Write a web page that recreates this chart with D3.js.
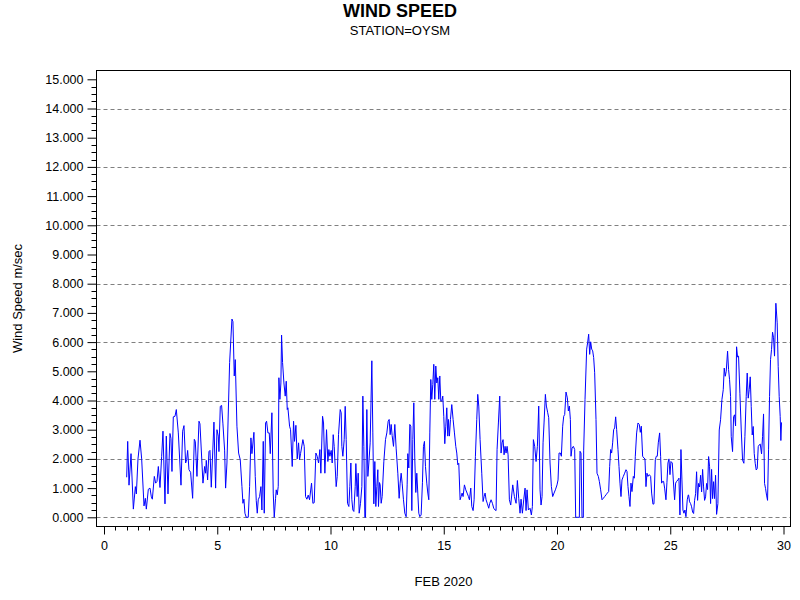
<!DOCTYPE html>
<html><head><meta charset="utf-8">
<script src="https://cdn.jsdelivr.net/npm/d3@7"></script>
<style>body{margin:0;background:#fff}svg{display:block}text{font-family:"Liberation Sans",Arial,sans-serif;fill:#000}</style>
</head><body><svg id="c" width="800" height="600"></svg>
<script>
const title = "WIND SPEED";
const subtitle = "STATION=OYSM";
const xLabel = "FEB 2020";
const yLabel = "Wind Speed m/sec";
const xTicks = [0, 5, 10, 15, 20, 25, 30];
const yTicks = d3.range(0, 16, 1);
const gridValues = [0, 2, 4, 6, 8, 10, 12, 14];

const day = [
1.001,1.046,1.104,1.193,1.296,1.384,1.428,1.501,1.590,1.663,1.766,1.825,1.869,1.957,2.031,2.090,2.134,2.222,2.281,2.340,
2.399,2.472,2.546,2.604,2.693,2.751,2.825,2.913,2.957,3.001,3.060,3.134,3.193,3.281,3.399,3.472,3.531,3.604,3.649,3.693,
3.751,3.825,3.913,3.987,4.031,4.104,4.193,4.237,4.369,4.443,4.487,4.516,4.575,4.634,4.678,4.737,4.854,4.928,4.987,5.046,
5.075,5.134,5.193,5.251,5.325,5.369,5.428,5.546,5.649,5.693,5.751,5.796,5.869,5.943,6.016,6.090,6.134,6.178,6.222,6.281,
6.369,6.428,6.487,6.531,6.619,6.678,6.722,6.766,6.810,6.869,6.928,6.972,7.031,7.075,7.134,7.178,7.237,7.296,7.340,7.413,
7.472,7.516,7.575,7.604,7.649,7.693,7.722,7.766,7.810,7.840,7.884,7.943,8.001,8.046,8.090,8.119,8.193,8.237,8.310,8.369,
8.413,8.472,8.531,8.590,8.634,8.678,8.781,8.840,8.899,8.957,9.016,9.075,9.163,9.222,9.281,9.354,9.413,9.472,9.531,9.575,
9.649,9.693,9.751,9.825,9.884,9.928,9.972,10.031,10.075,10.119,10.163,10.251,10.296,10.354,10.428,10.472,10.501,10.546,10.604,10.649,
10.693,10.751,10.810,10.854,10.899,10.943,10.987,11.031,11.090,11.119,11.178,11.222,11.266,11.325,11.384,11.428,11.472,11.516,11.546,11.604,
11.649,11.693,11.751,11.825,11.869,11.913,11.957,12.001,12.046,12.090,12.119,12.163,12.193,12.237,12.281,12.354,12.428,12.487,12.546,12.590,
12.634,12.678,12.722,12.781,12.840,12.898,12.972,13.031,13.075,13.119,13.163,13.222,13.281,13.340,13.384,13.413,13.457,13.501,13.546,13.590,
13.634,13.678,13.722,13.766,13.810,13.854,13.898,13.943,14.001,14.060,14.104,14.148,14.193,14.251,14.296,14.340,14.384,14.428,14.472,14.516,
14.560,14.604,14.649,14.693,14.737,14.781,14.825,14.869,14.913,14.957,15.001,15.046,15.090,15.134,15.178,15.207,15.251,15.296,15.354,15.413,
15.472,15.531,15.575,15.619,15.663,15.722,15.766,15.810,15.854,15.913,15.972,16.031,16.090,16.134,16.193,16.237,16.296,16.340,16.398,16.457,
16.501,16.546,16.604,16.678,16.737,16.781,16.825,16.869,16.928,16.987,17.031,17.090,17.148,17.207,17.266,17.310,17.354,17.413,17.472,17.531,
17.575,17.619,17.663,17.707,17.751,17.796,17.840,17.898,17.957,18.046,18.119,18.193,18.251,18.310,18.369,18.413,18.472,18.531,18.590,18.634,
18.678,18.737,18.810,18.869,18.913,18.957,19.016,19.075,19.134,19.193,19.251,19.296,19.340,19.384,19.428,19.487,19.531,19.590,19.634,19.693,
19.751,19.810,19.869,19.928,20.001,20.046,20.090,20.148,20.193,20.251,20.296,20.340,20.398,20.457,20.501,20.546,20.590,20.619,20.663,20.722,
20.781,20.825,20.987,21.016,21.060,21.104,21.163,21.178,21.237,21.310,21.354,21.398,21.443,21.487,21.531,21.575,21.619,21.663,21.722,21.766,
21.825,21.869,21.928,21.987,22.046,22.104,22.163,22.222,22.281,22.325,22.369,22.413,22.457,22.501,22.546,22.590,22.634,22.693,22.737,22.781,
22.825,22.869,22.928,22.987,23.046,23.090,23.134,23.178,23.222,23.266,23.310,23.369,23.413,23.457,23.516,23.575,23.634,23.678,23.722,23.781,
23.840,23.884,23.928,23.972,24.016,24.075,24.134,24.178,24.237,24.281,24.340,24.384,24.428,24.472,24.531,24.575,24.619,24.663,24.707,24.751,
24.810,24.854,24.898,24.943,24.987,25.031,25.090,25.134,25.193,25.237,25.281,25.340,25.384,25.428,25.472,25.516,25.560,25.604,25.648,25.693,
25.751,25.796,25.810,25.854,25.898,25.943,25.987,26.031,26.075,26.119,26.163,26.207,26.251,26.296,26.340,26.384,26.428,26.472,26.516,26.560,
26.604,26.648,26.693,26.737,26.781,26.825,26.869,26.913,26.957,27.001,27.046,27.104,27.163,27.222,27.281,27.340,27.384,27.428,27.472,27.531,
27.575,27.619,27.663,27.693,27.751,27.796,27.840,27.884,27.928,27.972,28.016,28.075,28.134,28.193,28.251,28.296,28.354,28.398,28.443,28.487,
28.531,28.575,28.619,28.663,28.707,28.751,28.796,28.840,28.884,28.928,28.972,29.031,29.075,29.119,29.163,29.207,29.251,29.296,29.340,29.384,
29.428,29.472,29.516,29.560,29.604,29.663,29.722,29.766,29.810,29.854,29.884,29.913
];

const speed = [
1.37,2.60,1.10,2.18,0.28,1.05,0.80,2.00,2.64,2.00,0.39,0.65,0.28,0.96,1.00,0.70,0.62,1.40,1.17,1.23,
1.74,1.02,2.09,2.95,0.46,2.78,0.80,2.87,2.70,1.57,3.44,3.46,3.69,2.89,1.10,2.95,3.14,1.86,1.97,2.29,
1.63,1.54,0.65,2.67,2.60,1.40,3.29,3.20,1.17,1.74,1.51,1.95,1.28,2.25,2.29,1.03,3.26,1.00,3.00,2.78,
2.25,3.80,3.83,3.20,2.30,1.00,1.86,5.30,6.79,6.70,4.84,5.40,3.12,2.20,1.97,1.05,0.48,0.62,0.14,0.00,
0.00,1.05,2.72,2.18,2.91,1.40,0.57,0.14,0.60,0.71,1.05,0.25,2.60,0.14,3.23,3.29,2.89,2.89,2.18,3.58,
0.83,0.00,0.65,0.94,0.77,1.06,4.78,4.04,4.60,6.24,5.30,4.60,4.15,4.66,3.69,3.75,3.12,3.00,1.74,3.29,
2.60,3.15,2.00,2.55,1.97,2.18,2.66,2.43,0.71,0.62,0.76,0.60,1.17,0.48,0.50,2.20,2.09,1.86,2.32,1.51,
3.46,3.23,1.51,3.00,1.91,2.32,2.09,2.29,1.86,2.83,2.43,1.05,1.40,2.83,3.69,3.58,2.43,2.09,2.66,3.80,
2.66,0.48,0.37,1.05,1.86,0.60,0.25,0.20,1.05,1.84,0.71,1.51,0.14,0.48,1.05,4.15,2.43,0.00,0.00,3.69,
1.40,1.86,2.55,5.36,2.89,0.46,1.91,0.37,1.05,1.63,0.37,1.19,1.11,0.48,0.71,1.90,2.66,2.89,3.29,3.35,
2.83,3.18,2.80,2.43,3.18,2.37,1.51,0.65,1.17,1.51,1.17,0.60,0.14,0.02,1.11,2.18,1.69,3.18,3.12,0.23,
2.66,3.92,1.97,0.85,1.51,0.83,0.14,0.02,0.08,1.20,2.43,2.60,1.74,1.17,0.83,0.60,2.89,4.72,4.04,4.55,
5.24,4.04,5.18,4.60,4.78,4.04,4.84,3.98,3.98,4.15,3.46,2.52,3.12,3.75,2.78,3.35,2.78,3.35,3.86,3.35,
2.89,2.43,2.20,1.80,1.85,0.60,0.71,0.83,0.71,1.11,0.94,0.83,0.71,0.60,1.00,0.37,0.23,0.60,2.09,3.35,
4.21,3.81,2.66,1.51,0.54,0.71,0.83,0.60,0.46,0.31,0.48,0.60,0.48,0.31,0.25,0.23,2.32,3.23,4.15,2.20,
2.55,2.66,2.14,2.43,2.20,2.43,2.14,0.60,0.42,1.11,0.71,0.48,1.26,0.65,0.14,0.62,0.14,0.60,1.00,0.23,
0.94,0.25,0.31,0.08,0.37,2.66,2.43,1.91,2.43,3.81,0.94,0.42,0.71,2.55,3.23,4.21,3.81,3.58,3.41,1.86,
1.05,0.71,0.83,0.94,1.11,1.28,2.20,2.20,2.09,3.12,3.46,3.52,4.29,4.09,3.64,3.81,3.35,2.09,2.37,2.43,
2.32,0.00,0.00,2.26,2.20,0.00,0.00,2.30,4.04,5.76,5.99,6.27,5.58,6.01,5.76,5.70,5.47,4.95,3.35,1.51,
1.40,1.23,0.94,0.60,0.65,0.71,0.77,0.83,0.88,1.74,2.32,2.20,2.55,3.00,3.06,3.44,3.00,2.32,1.74,1.17,
0.71,1.28,1.40,1.51,1.63,1.57,1.05,0.71,0.37,1.17,0.88,1.40,1.34,2.09,2.89,3.23,3.18,2.91,3.12,2.09,
2.03,2.00,1.05,1.51,1.40,1.46,1.40,0.83,0.45,0.46,1.97,2.09,2.09,2.55,2.89,2.09,1.17,1.23,1.23,1.00,
0.60,1.20,1.86,2.00,1.46,1.91,1.86,1.28,0.60,1.17,1.23,1.28,1.34,0.08,2.32,1.28,0.25,0.14,0.25,0.02,
0.60,0.77,0.76,0.53,0.47,0.36,0.18,0.13,0.58,0.81,1.56,0.58,1.16,1.04,1.44,0.87,1.64,1.04,0.58,0.70,
1.16,0.95,2.08,1.73,0.47,1.64,0.64,1.22,0.64,1.44,0.10,0.47,2.99,3.34,4.03,4.37,5.11,4.83,5.00,5.69,
5.06,4.71,4.14,2.76,2.25,3.45,3.51,3.13,5.84,5.49,5.52,4.25,2.99,1.96,1.85,2.76,4.14,4.94,4.08,4.37,
4.81,3.80,2.82,3.11,2.19,1.85,1.62,1.67,2.42,2.48,2.51,2.17,2.76,3.54,1.16,0.99,0.76,0.58,2.31,4.14,
5.40,5.75,6.34,6.15,5.52,7.33,6.66,5.17,4.14,3.45,2.63,3.25
];

const n = Math.min(day.length, speed.length);
const data = d3.range(n).map(i => ({d: day[i], v: speed[i]}));

const svg = d3.select("#c");
const frame = {left: 96.5, right: 790.5, top: 70.5, bottom: 526.5};
const x = d3.scaleLinear().domain([0, 30]).range([104, 783.5]);
const y = d3.scaleLinear().domain([0, 15]).range([517.3, 79.3]);
const FONT = "\"Liberation Sans\",Arial,sans-serif";

// titles
svg.append("text").attr("x", 400).attr("y", 17).attr("text-anchor", "middle")
  .style("font-size", "18px").style("font-weight", "bold").text(title);
svg.append("text").attr("x", 400).attr("y", 35).attr("text-anchor", "middle")
  .style("font-size", "13px").text(subtitle);

// grid
svg.append("g").selectAll("line").data(gridValues).join("line")
  .attr("x1", frame.left).attr("x2", frame.right)
  .attr("y1", d => Math.round(y(d)) + 0.5).attr("y2", d => Math.round(y(d)) + 0.5)
  .attr("stroke", "#808080").attr("stroke-width", 1).attr("stroke-dasharray", "4,3");

// clipped line
svg.append("clipPath").attr("id", "clip").append("rect")
  .attr("x", frame.left).attr("y", frame.top)
  .attr("width", frame.right - frame.left).attr("height", frame.bottom - frame.top);
const line = d3.line().x(p => x(p.d)).y(p => y(p.v));
svg.append("path").datum(data).attr("clip-path", "url(#clip)")
  .attr("d", line).attr("fill", "none").attr("stroke", "#0000ff").attr("stroke-width", 1);

// frame
svg.append("rect").attr("x", frame.left).attr("y", frame.top)
  .attr("width", frame.right - frame.left).attr("height", frame.bottom - frame.top)
  .attr("fill", "none").attr("stroke", "#000").attr("stroke-width", 1);

// y axis
const yAxis = svg.append("g").attr("transform", `translate(${frame.left},0)`);
const yMinor = d3.range(0, 15.001, 0.25).filter(v => Math.abs(v - Math.round(v)) > 1e-6);
yAxis.selectAll("line.minor").data(yMinor).join("line").attr("class", "minor")
  .attr("x1", -5).attr("x2", 0)
  .attr("y1", d => Math.round(y(d)) + 0.5).attr("y2", d => Math.round(y(d)) + 0.5)
  .attr("stroke", "#000");
yAxis.call(d3.axisLeft(y).tickValues(yTicks).tickSize(9).tickSizeOuter(0).tickFormat(d3.format(".3f")))
  .call(g => g.select(".domain").remove())
  .call(g => g.selectAll(".tick text").attr("x", -13).style("font-size", "12.5px").style("font-family", FONT));

// x axis
const xAxis = svg.append("g").attr("transform", `translate(0,${frame.bottom})`);
const xMinor = d3.range(0, 30.001, 0.5).filter(v => v % 5 !== 0);
xAxis.selectAll("line.minor").data(xMinor).join("line").attr("class", "minor")
  .attr("y1", 0).attr("y2", 4)
  .attr("x1", d => Math.round(x(d)) + 0.5).attr("x2", d => Math.round(x(d)) + 0.5)
  .attr("stroke", "#000");
xAxis.call(d3.axisBottom(x).tickValues(xTicks).tickSize(8).tickSizeOuter(0).tickFormat(d3.format("d")))
  .call(g => g.select(".domain").remove())
  .call(g => g.selectAll(".tick text").attr("y", 15).style("font-size", "12.5px").style("font-family", FONT));

// axis labels
svg.append("text").attr("x", (frame.left + frame.right) / 2).attr("y", 586)
  .attr("text-anchor", "middle").style("font-size", "13px").text(xLabel);
svg.append("text").attr("transform", `translate(22,${(frame.top + frame.bottom) / 2}) rotate(-90)`)
  .attr("text-anchor", "middle").style("font-size", "13px").text(yLabel);
</script></body></html>
